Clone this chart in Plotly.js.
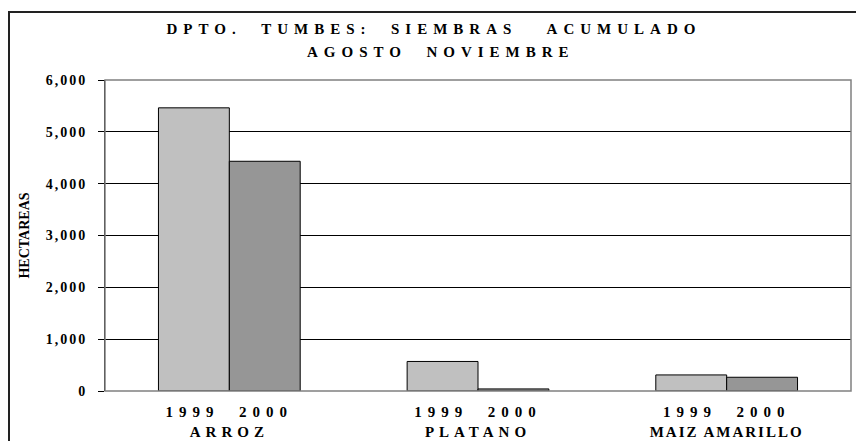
<!DOCTYPE html>
<html>
<head>
<meta charset="utf-8">
<script src="https://cdn.plot.ly/plotly-3.0.1.min.js"></script>
<style>
  html, body { margin: 0; padding: 0; background: #fff; }
  #wrap { position: relative; width: 856px; height: 441px; overflow: hidden; }
  #chart { width: 856px; height: 441px; }
  #frame { position: absolute; left: 8px; top: 11px; width: 850px; height: 440px;
           border: 2px solid #222; pointer-events: none; box-sizing: border-box; }
  .gtitle, .annotation-text { letter-spacing: 6px; }
  .xtick text { letter-spacing: 6px; }
  .xtick text tspan.line:nth-child(2) { letter-spacing: 5px; }
  .xtick:nth-child(3) text tspan.line:nth-child(2) { letter-spacing: 2px; }
  .ytick text { letter-spacing: 2px; }
</style>
</head>
<body>
<div id="wrap">
  <div id="chart"></div>
  <div id="frame"></div>
</div>
<script>
const categories = ["ARROZ", "PLATANO", "MAIZ AMARILLO"];
const years = ["1999", "2000"];
const values1999 = [5463, 570, 310];
const values2000 = [4432, 40, 265];
const yTickVals = [0, 1000, 2000, 3000, 4000, 5000, 6000];
const yTickText = ["0", "1,000", "2,000", "3,000", "4,000", "5,000", "6,000"];
const titleLine1 = "DPTO.  TUMBES:  SIEMBRAS   ACUMULADO";
const titleLine2 = "AGOSTO  NOVIEMBRE";
const yTitle = "HECTAREAS";

const font = "Liberation Serif";
const yearLine = years.join("\u00a0\u00a0");
const tickText = categories.map(c => yearLine + "<br>" + c);

const traces = [
  { type: "bar", name: years[0], x: categories, y: values1999,
    marker: { color: "#c0c0c0", line: { color: "#000", width: 1 } } },
  { type: "bar", name: years[1], x: categories, y: values2000,
    marker: { color: "#969696", line: { color: "#000", width: 1 } } }
];

const titleFont = { family: font, size: 15, color: "#000", weight: "bold" };

const layout = {
  width: 856, height: 441,
  margin: { l: 105, r: 5, t: 80, b: 50, pad: 0 },
  paper_bgcolor: "#fff", plot_bgcolor: "#fff",
  showlegend: false,
  barmode: "group", bargap: 0.43, bargroupgap: 0,
  font: { family: font, color: "#000", weight: "bold" },
  title: {
    text: titleLine1.replace(/ /g, "\u00a0"),
    x: 434 / 856, xref: "container", xanchor: "center",
    y: 1 - 29 / 441, yref: "container", yanchor: "middle",
    font: titleFont
  },
  annotations: [
    { text: titleLine2.replace(/ /g, "\u00a0"), xref: "paper", yref: "paper",
      x: (441 - 105) / 746, y: 1 + (80 - 52) / 311, xanchor: "center", yanchor: "middle",
      showarrow: false, font: titleFont }
  ],
  xaxis: {
    type: "category",
    tickmode: "array", tickvals: categories, ticktext: tickText,
    tickfont: { family: font, size: 15, color: "#000", weight: "bold" },
    ticklabelstandoff: 10,
    showgrid: false, zeroline: false, showline: false, ticks: "",
    fixedrange: true
  },
  yaxis: {
    range: [0, 6000],
    tickmode: "array", tickvals: yTickVals, ticktext: yTickText,
    tickfont: { family: font, size: 14, color: "#000", weight: "bold" },
    ticks: "outside", ticklen: 6, tickcolor: "#000", tickwidth: 1,
    ticklabelstandoff: 8,
    showline: true, linecolor: "#000", linewidth: 1,
    showgrid: true, gridcolor: "#000", gridwidth: 1,
    zeroline: false,
    title: { text: yTitle, font: { family: font, size: 14, color: "#000", weight: "bold" }, standoff: 12 },
    fixedrange: true
  },
  shapes: [
    { type: "rect", xref: "paper", yref: "paper", x0: 0, x1: 1, y0: 0, y1: 1,
      line: { color: "#808080", width: 1.5 }, fillcolor: "rgba(0,0,0,0)", layer: "above" }
  ]
};

Plotly.newPlot("chart", traces, layout, { displayModeBar: false, staticPlot: true });
</script>
</body>
</html>
